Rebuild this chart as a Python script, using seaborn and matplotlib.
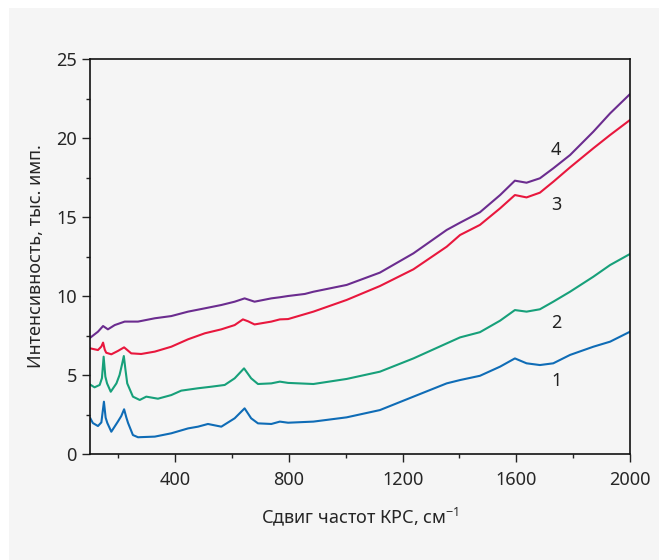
import matplotlib
matplotlib.use("Agg")
import matplotlib.pyplot as plt
import seaborn as sns
from matplotlib.patches import Rectangle
from matplotlib.ticker import MultipleLocator

# Спектры КРС, тыс. имп.
x1 = [100, 110, 128, 140, 149, 155, 161, 175, 198, 210, 220, 228, 234, 251, 269, 328, 386, 445, 480,
      515, 562, 609, 644, 667, 691, 738, 768, 797, 886, 1003, 1120, 1238, 1355, 1402, 1472, 1543,
      1595, 1636, 1683, 1730, 1789, 1871, 1930, 2000]
y1 = [2.3, 1.96, 1.77, 2.0, 3.31, 2.3, 1.96, 1.41, 2.05, 2.4, 2.83, 2.3, 1.96, 1.2, 1.06, 1.1, 1.31, 1.62, 1.73,
      1.9, 1.73, 2.26, 2.89, 2.26, 1.94, 1.9, 2.05, 1.98, 2.05, 2.32, 2.78, 3.63, 4.47, 4.68, 4.95, 5.53,
      6.05, 5.74, 5.63, 5.74, 6.27, 6.79, 7.11, 7.74]

x2 = [100, 116, 134, 142, 148, 154, 160, 173, 193, 204, 213, 219, 225, 231, 251, 275, 298, 339, 386,
      421, 480, 527, 574, 609, 642, 667, 691, 738, 768, 797, 886, 1003, 1120, 1238, 1355, 1402, 1472,
      1543, 1595, 1636, 1683, 1730, 1789, 1871, 1930, 2000]
y2 = [4.4, 4.22, 4.37, 4.8, 6.16, 4.9, 4.47, 3.94, 4.47, 5.0, 5.7, 6.2, 5.3, 4.47, 3.63, 3.42, 3.63, 3.5, 3.73,
      4.01, 4.16, 4.26, 4.37, 4.79, 5.42, 4.79, 4.43, 4.47, 4.58, 4.5, 4.43, 4.75, 5.21, 6.05, 7.0, 7.38, 7.71,
      8.44, 9.11, 9.01, 9.16, 9.64, 10.27, 11.22, 11.96, 12.66]

x3 = [100, 128, 140, 146, 152, 157, 175, 198, 220, 245, 280, 328, 386, 445, 504, 562, 609, 638, 656,
      679, 738, 768, 797, 886, 1003, 1120, 1238, 1355, 1402, 1472, 1543, 1595, 1636, 1683, 1730, 1789,
      1871, 1930, 2000]
y3 = [6.69, 6.58, 6.8, 7.05, 6.6, 6.41, 6.31, 6.52, 6.75, 6.37, 6.33, 6.48, 6.79, 7.26, 7.64, 7.89, 8.16, 8.52, 8.4,
      8.2, 8.38, 8.52, 8.54, 9.01, 9.75, 10.63, 11.69, 13.12, 13.86, 14.5, 15.55, 16.39, 16.24, 16.54, 17.23, 18.14,
      19.35, 20.19, 21.14]

x4 = [100, 128, 146, 163, 187, 222, 269, 328, 386, 445, 504, 562, 609, 644, 679, 738, 768, 797, 856,
      886, 1003, 1120, 1238, 1355, 1402, 1472, 1543, 1595, 1636, 1683, 1730, 1789, 1871, 1930, 2000]
y4 = [7.35, 7.74, 8.1, 7.89, 8.16, 8.38, 8.38, 8.59, 8.73, 9.01, 9.22, 9.43, 9.64, 9.85, 9.64, 9.85, 9.92, 10.0, 10.13,
      10.27, 10.7, 11.48, 12.7, 14.18, 14.64, 15.3, 16.39, 17.3, 17.17, 17.45, 18.08, 18.92, 20.4, 21.56, 22.78]

series = [(x1, y1, "#0f6cb6"), (x2, y2, "#17a07a"), (x3, y3, "#e8173d"), (x4, y4, "#6b2c8f")]

# подписи кривых
labels = ["1", "2", "3", "4"]
label_x = [1740, 1740, 1740, 1740]
label_y = [4.62, 8.29, 15.76, 19.24]

bg = "#f5f5f5"
sns.set_theme(style="ticks")
plt.rcParams["font.family"] = ["Noto Sans", "DejaVu Sans"]
plt.rcParams["mathtext.fontset"] = "custom"
plt.rcParams["mathtext.rm"] = "Noto Sans"
plt.rcParams["mathtext.default"] = "regular"
plt.rcParams["axes.facecolor"] = bg

fig = plt.figure(figsize=(6.59, 5.6), dpi=100, facecolor="white")
# серая подложка под графиком
fig.patches.append(Rectangle((9 / 659, 0), 1 - 9 / 659, 1 - 8 / 560, transform=fig.transFigure,
                             facecolor=bg, edgecolor="none", zorder=-10))
ax = fig.add_axes([90 / 659, 1 - 454 / 560, 540 / 659, 395 / 560])
ax.set_facecolor(bg)
ax.set_zorder(1)

for x, y, c in series:
    sns.lineplot(x=x, y=y, color=c, linewidth=1.5, ax=ax)

for lab, lx, ly in zip(labels, label_x, label_y):
    ax.text(lx, ly, lab, fontsize=13, ha="center", va="center", color="#222222")

ax.set_xlim(100, 2000)
ax.set_ylim(0, 25)
ax.set_xticks([400, 800, 1200, 1600, 2000])
ax.xaxis.set_minor_locator(MultipleLocator(200))
ax.yaxis.set_major_locator(MultipleLocator(5))
ax.yaxis.set_minor_locator(MultipleLocator(2.5))
ax.tick_params(axis="both", which="major", direction="out", length=6, width=1, labelsize=13, color="#222222")
ax.tick_params(axis="x", which="major", pad=6)
ax.tick_params(axis="both", which="minor", direction="out", length=3, width=1, color="#222222")
for s in ax.spines.values():
    s.set_color("#111111")
    s.set_linewidth(1.2)

ax.set_xlabel("Сдвиг частот КРС, см$^{-1}$", fontsize=13, labelpad=12)
ax.set_ylabel("Интенсивность, тыс. имп.", fontsize=13, labelpad=8)

fig.savefig("out.png", dpi=100, facecolor="white")
